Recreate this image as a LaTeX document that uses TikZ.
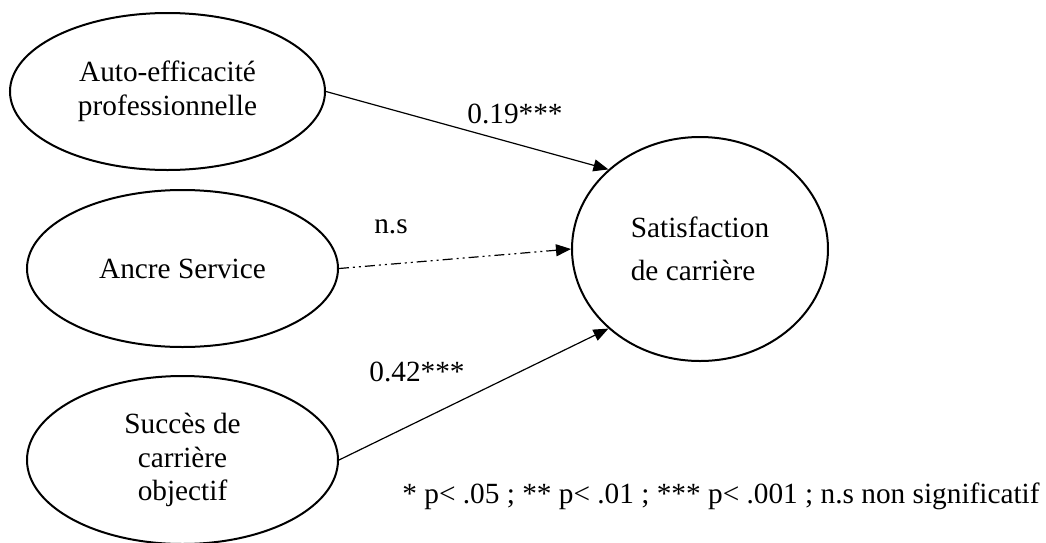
\documentclass[tikz,border=0pt]{standalone}
\usepackage{fontspec}
\setmainfont{Liberation Serif}
\usetikzlibrary{arrows.meta,shapes.geometric}

\begin{document}
\begin{tikzpicture}[
      x=0.5pt, y=-0.5pt,
      myellipse/.style={
         ellipse,
         draw=black,
         line width=1pt,
         inner sep=0pt,
         align=center,
         font=\fontsize{14.65}{16.85}\selectfont},
      mylabel/.style={inner sep=0pt, font=\fontsize{14.65}{16.85}\selectfont},
      myarrow/.style={-{Triangle[length=7.5pt,width=6pt]}, line width=0.6pt},
      mydash/.style={dash pattern=on 5pt off 2pt on 1pt off 2pt on 1pt off 2pt}
      ]
\useasboundingbox (0,0) rectangle (1046,542);

\node[myellipse,minimum width=157.5pt,minimum height=78.5pt] (aef) at (167.5,91.5) {Auto-efficacité\\professionnelle};
\node[myellipse,minimum width=155.5pt,minimum height=78.5pt] (ase) at (182.5,268.5) {Ancre Service};
\node[myellipse,minimum width=155.5pt,minimum height=84pt] (sco) at (182.5,460) {Succès de\\carrière\\objectif};
\node[myellipse,minimum width=128pt,minimum height=112pt,align=left,
      font=\fontsize{14.65}{21.5}\selectfont] (sat) at (700,249) {Satisfaction\\de carrière};

\node[mylabel] (l1) at (515,114) {0.19***};
\node[mylabel] (l2) at (391,227) {n.s};
\node[mylabel] (l3) at (417,372) {0.42***};
\node[mylabel,anchor=base west] (leg) at (402,503) {* p< .05 ; ** p< .01 ; *** p< .001 ; n.s non significatif};

\draw[myarrow] (aef.east) -- (sat.139);
\draw[myarrow,mydash] (ase.east) -- (sat.west);
\draw[myarrow] (sco.east) -- (sat.221);

\end{tikzpicture}
\end{document}
